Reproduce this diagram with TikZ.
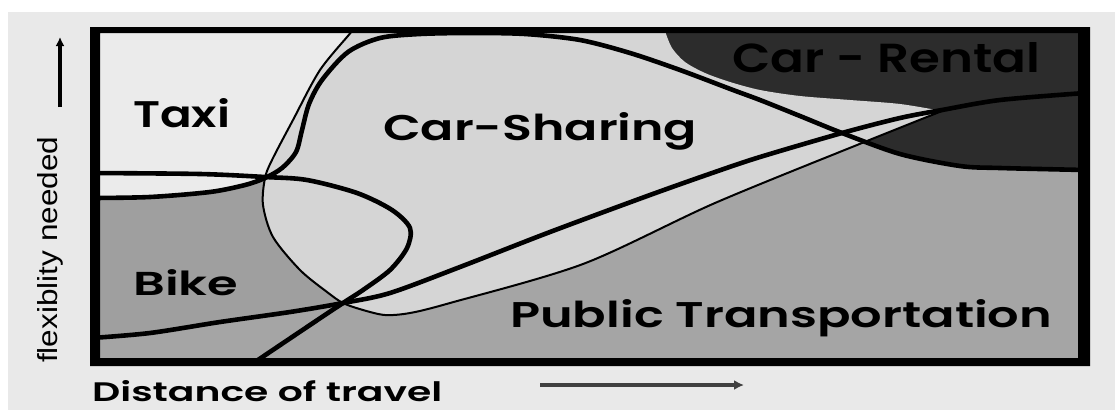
\documentclass[tikz,border=0pt]{standalone}
\usepackage{fontspec}
\usetikzlibrary{arrows.meta}
\newfontfamily\agf{Poppins SemiBold}
\newfontfamily\hvf{Liberation Sans}
\definecolor{bggray}{HTML}{E9E9E9}
\definecolor{taxic}{HTML}{EBEBEB}
\definecolor{csc}{HTML}{D5D5D5}
\definecolor{bikec}{HTML}{9F9F9F}
\definecolor{ptc}{HTML}{A5A5A5}
\definecolor{darkc}{HTML}{2C2C2C}
\newcommand\fitlab[3]{\resizebox{#1pt}{#2pt}{\agf\fontsize{30}{32}\selectfont #3}}
\begin{document}
\begin{tikzpicture}[x=1pt,y=-1pt,
  thickl/.style={line width=4.6pt, line join=round},
  thinl/.style={line width=2pt},
  lab/.style={inner sep=0pt, anchor=base west},
  arr/.style={line width=3.6pt}]
\useasboundingbox (0,0) rectangle (1115,410);
\fill[white] (0,0) rectangle (1115,410);
\fill[bggray] (8,12) rectangle (1115,410);
\begin{scope}
\clip (100,33) rectangle (1078,358);
% base: public transportation
\fill[ptc] (90,25) rectangle (1090,366);
% taxi
\fill[taxic] (90,25) -- (420,25) -- plot[smooth] coordinates {(420,34) (380,38) (348,52) (322,80) (309,104) (302,130) (296,152) (282,168) (265,178) (245,185) (210,192) (150,197) (90,198)} -- cycle;
% bike
\fill[bikec] plot[smooth] coordinates {(90,198) (150,197) (210,192) (245,185) (265,178)} -- plot[smooth] coordinates {(265,178) (263,205) (273,237) (300,270) (327,292) (343,303)} -- plot[smooth] coordinates {(343,303) (290,312) (220,322) (150,333) (90,338)} -- cycle;
% car rental (dark)
\fill[darkc] (640,25) -- (1090,25) -- (1090,170) -- plot[smooth] coordinates {(1085,170) (1000,168) (960,166) (900,154) (842,133) (800,116) (760,100) (733,90) (700,77)} -- (640,77) -- cycle;
% car sharing
\fill[csc] plot[smooth] coordinates {(354,25) (352,31) (320,70) (293,120) (272,160) (265,178) (263,205) (273,237) (300,270) (327,292) (343,303) (363,310) (385,315) (410,313) (450,303) (583,264) (715,203) (862,143) (942,111)} -- plot[smooth] coordinates {(942,111) (900,104) (850,100) (800,96) (760,90) (730,82) (705,73) (685,62) (672,48) (665,31) (664,25)} -- cycle;
% lines
\draw[thickl] plot[smooth] coordinates {(92,173) (200,174) (265,177) (307,180) (357,193) (392,210) (410,228) (407,248) (390,270) (363,290) (343,303) (307,327) (252,364)};
\draw[thickl] plot[smooth] coordinates {(92,198) (150,197) (210,192) (245,185) (265,178) (282,168) (296,152) (302,130) (309,104) (322,80) (348,52) (380,38) (420,34) (470,33) (525,34) (580,40) (630,53) (680,70) (733,90) (760,100) (800,116) (842,133) (900,154) (960,166) (1000,168) (1085,170)};
\draw[thickl] plot[smooth] coordinates {(92,338) (150,333) (220,322) (290,312) (343,303) (390,293) (460,267) (550,232) (650,195) (715,172) (760,157) (842,133) (900,118) (942,110) (1000,100) (1085,93)};
\draw[thinl] plot[smooth] coordinates {(354,25) (352,31) (320,70) (293,120) (272,160) (265,178) (263,205) (273,237) (300,270) (327,292) (343,303) (363,310) (385,315) (410,313) (450,303) (583,264) (715,203) (862,143) (942,111)};
\end{scope}
% frame
\fill[black, even odd rule] (90,27) rectangle (1090,366) (100,33) rectangle (1078,358);
% labels
\node[lab] (taxi) at (133,127) {\fitlab{97}{29}{Taxi}};
\node[lab] (cs) at (383,140) {\fitlab{314}{28}{Car-Sharing}};
\node[lab] (bike) at (133,295) {\fitlab{105}{26}{Bike}};
\node[lab] (pt) at (510,327) {\fitlab{542}{28}{Public Transportation}};
\node[lab] (cr) at (732,72) {\fitlab{308}{30}{Car - Rental}};
\node[lab] (dist) at (92,401) {\fitlab{350}{21}{Distance of travel}};
\node[rotate=90, anchor=base west, inner sep=0pt] (flex) at (57,363) {\resizebox{226pt}{20pt}{\hvf flexiblity needed}};
% axis arrows
\coordinate (va0) at (60,107); \coordinate (va1) at (60,37);
\draw[arr, -{Latex[length=9pt,width=9pt]}] (va0) -- (va1);
\coordinate (ha0) at (540,385); \coordinate (ha1) at (744,385);
\draw[arr, black!75, -{Latex[length=10pt,width=10pt]}] (ha0) -- (ha1);
\end{tikzpicture}
\end{document}
